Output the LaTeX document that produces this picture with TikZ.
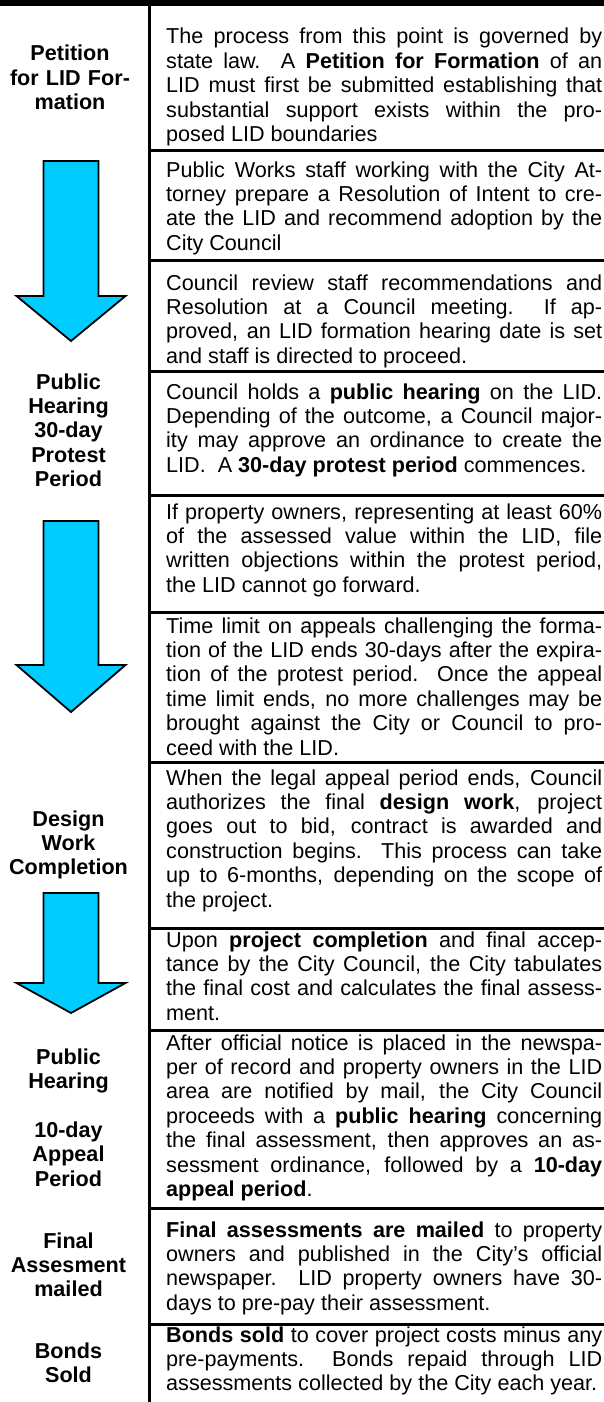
\documentclass[tikz,border=0pt]{standalone}
\usepackage{fontspec}
\setmainfont{Liberation Sans}
\definecolor{arrowcyan}{RGB}{0,204,255}
\newcommand{\dsp}{\ \ }
\hyphenpenalty=10000
\exhyphenpenalty=10000
\tolerance=10000
\hbadness=10000

\begin{document}
\begin{tikzpicture}[x=1pt,y=-1pt,
   txt/.style={anchor=base west,inner sep=0pt,text width=436pt,align=justify,
      font=\fontsize{21.6}{24.4}\selectfont},
   lbl/.style={anchor=base,inner sep=0pt,text width=146pt,align=center,
      font=\fontsize{21.6}{24.4}\selectfont\bfseries}]
   \useasboundingbox (0,0) rectangle (604,1402);
   % table rules
   \fill (0,0) rectangle (604,6);
   \fill (147.5,6) rectangle (150.5,1402);
   \foreach \y in {150,260,371,495,612,762,928,1030,1208,1324}
      \fill (150.5,\y-1.5) rectangle (604,\y+1.5);
   % block arrows
   \foreach \top/\base/\tip in {161/296/341, 521/665/712, 893/983/1013}
      \filldraw[fill=arrowcyan,draw=black,line width=1.8pt]
         (43.5,\top) -- (98.5,\top) -- (98.5,\base) -- (125.5,\base)
         -- (71,\tip) -- (16.5,\base) -- (43.5,\base) -- cycle;
   % left column
   \node[lbl] (petition) at (70,61) {Petition\\for LID For-\\mation};
   \node[lbl] (protest)  at (68.5,389) {Public\\Hearing\\30-day\\Protest\\Period};
   \node[lbl] (design)   at (68.5,826) {Design\\Work\\Completion};
   \node[lbl] (appeal)   at (68.5,1064) {Public\\Hearing\\[\baselineskip]10-day\\Appeal\\Period};
   \node[lbl] (mailed)   at (68.5,1248) {Final\\Assesment\\mailed};
   \node[lbl] (bonds)    at (68.5,1358) {Bonds\\Sold};
   % right column
   \node[txt] (s1) at (166,44) {The process from this point is governed by\linebreak
      state law.\dsp A \textbf{Petition for Formation} of an\linebreak
      LID must first be submitted establishing that\linebreak
      substantial support exists within the pro-\linebreak
      posed LID boundaries};
   \node[txt] (s2) at (166,177) {Public Works staff working with the City At-\linebreak
      torney prepare a Resolution of Intent to cre-\linebreak
      ate the LID and recommend adoption by the\linebreak
      City Council};
   \node[txt] (s3) at (166,290) {Council review staff recommendations and\linebreak
      Resolution at a Council meeting.\dsp If ap-\linebreak
      proved, an LID formation hearing date is set\linebreak
      and staff is directed to proceed.};
   \node[txt] (s4) at (166,399) {Council holds a \textbf{public hearing} on the LID.\linebreak
      Depending of the outcome, a Council major-\linebreak
      ity may approve an ordinance to create the\linebreak
      LID.\dsp A \textbf{30-day protest period} commences.};
   \node[txt] (s5) at (166,519) {If property owners, representing at least 60\%\linebreak
      of the assessed value within the LID, file\linebreak
      written objections within the protest period,\linebreak
      the LID cannot go forward.};
   \node[txt] (s6) at (166,633) {Time limit on appeals challenging the forma-\linebreak
      tion of the LID ends 30-days after the expira-\linebreak
      tion of the protest period.\dsp Once the appeal\linebreak
      time limit ends, no more challenges may be\linebreak
      brought against the City or Council to pro-\linebreak
      ceed with the LID.};
   \node[txt] (s7) at (166,785) {When the legal appeal period ends, Council\linebreak
      authorizes the final \textbf{design work}, project\linebreak
      goes out to bid, contract is awarded and\linebreak
      construction begins.\dsp This process can take\linebreak
      up to 6-months, depending on the scope of\linebreak
      the project.};
   \node[txt] (s8) at (166,947) {Upon \textbf{project completion} and final accep-\linebreak
      tance by the City Council, the City tabulates\linebreak
      the final cost and calculates the final assess-\linebreak
      ment.};
   \node[txt] (s9) at (166,1050) {After official notice is placed in the newspa-\linebreak
      per of record and property owners in the LID\linebreak
      area are notified by mail, the City Council\linebreak
      proceeds with a \textbf{public hearing} concerning\linebreak
      the final assessment, then approves an as-\linebreak
      sessment ordinance, followed by a \textbf{10-day}\linebreak
      \textbf{appeal period}.};
   \node[txt] (s10) at (166,1237) {\textbf{Final assessments are mailed} to property\linebreak
      owners and published in the City’s official\linebreak
      newspaper.\dsp LID property owners have 30-\linebreak
      days to pre-pay their assessment.};
   \node[txt] (s11) at (166,1342) {\textbf{Bonds sold} to cover project costs minus any\linebreak
      pre-payments.\dsp Bonds repaid through LID\linebreak
      assessments collected by the City each year.};
\end{tikzpicture}
\end{document}
